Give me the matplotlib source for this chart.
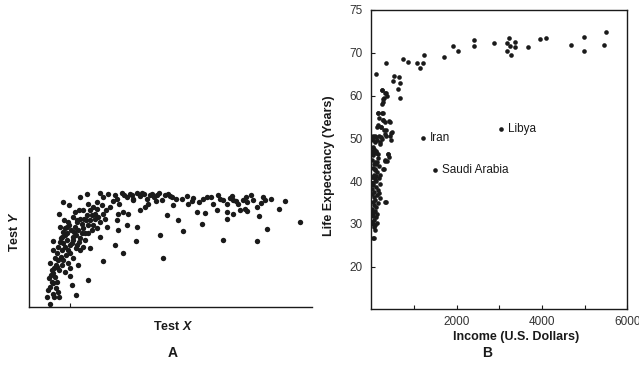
"""Two scatter panels: test scores (A) and life expectancy vs income (B)"""
import matplotlib
matplotlib.use("Agg")
from matplotlib import pyplot as plt

plt.rcParams["font.family"] = ["Liberation Sans", "DejaVu Sans"]
plt.rcParams["mathtext.fontset"] = "custom"
plt.rcParams["mathtext.it"] = "Liberation Sans:bold:italic"

# Panel A: scores on an arbitrary scale (no numeric axis in the original)
test_x = [190, 240, 262, 300, 310, 325, 345, 350, 365, 380, 390, 400, 410, 420,
          432, 440, 450, 462, 478, 485, 495, 505, 515, 520, 545, 565, 580, 597,
          620, 640, 655, 660, 680, 695, 700, 715, 738, 740, 760, 790, 795, 838,
          855, 900,
          305, 318, 330, 355, 370, 385, 420, 435, 500, 535, 590, 615, 650, 680,
          700, 720, 735, 740, 770, 778, 680, 605, 550, 800,
          350, 355, 380, 410, 408, 345, 368, 308, 300, 290, 480, 490, 670, 770,
          265, 235, 228, 150, 215, 210,
          150, 155, 160, 148, 165, 172, 158, 150, 168, 175, 160, 145, 170, 165, 155,
          180, 190, 185, 195, 200, 188, 195, 205, 185, 198, 190, 203, 210, 180,
          175, 200, 205, 193, 215, 210,
          220, 230, 225, 240, 245, 235, 250, 228, 240, 255, 220, 232, 248, 258,
          225, 238, 260, 245,
          265, 270, 280, 290, 275, 285, 295, 270, 300, 310, 290, 280, 265,
          160, 178, 208, 240, 270, 220,
          160, 170, 182, 195, 178, 185, 162, 175, 200, 212, 218, 228, 255, 265,
          275, 285, 250, 315, 320, 140, 163, 178,
          372, 395, 425, 455, 470, 510, 528, 560, 575, 610, 632, 670, 690, 708,
          728, 752, 782, 812, 338, 358, 398, 445, 468, 208, 222, 236, 252, 196,
          168, 152, 182, 210, 232]
test_y = [316, 331, 339, 343, 331, 341, 336, 326, 343, 331, 341, 323, 343, 333,
          341, 326, 336, 331, 343, 323, 336, 339, 331, 306, 326, 311, 329, 316,
          331, 311, 336, 326, 311, 333, 323, 309, 331, 316, 323, 331, 321, 296,
          319, 256,
          306, 291, 301, 281, 286, 279, 293, 301, 276, 261, 286, 283, 291, 286,
          281, 291, 296, 288, 301, 273, 266, 249, 229, 233,
          263, 231, 246, 241, 198, 186, 161, 139, 209, 236, 216, 146, 201, 199,
          81, 126, 35, 8, 66, 93,
          131, 111, 101, 86, 91, 76, 71, 61, 56, 46, 39, 51, 121, 146, 76,
          241, 226, 211, 216, 201, 191, 181, 171, 171, 156, 141, 131, 116, 196,
          181, 241, 256, 261, 191, 161,
          271, 256, 241, 266, 251, 231, 236, 216, 206, 221, 201, 186, 181, 261,
          286, 293, 276, 221,
          311, 291, 301, 296, 276, 281, 271, 261, 256, 281, 316, 246, 246,
          199, 281, 306, 171, 176, 146,
          171, 161, 151, 106, 111, 126, 116, 141, 221, 231, 211, 176, 201, 221,
          231, 266, 291, 266, 241, 31, 31, 31,
          336, 338, 344, 340, 336, 334, 326, 333, 318, 324, 330, 321, 329, 318,
          322, 336, 312, 325, 318, 309, 326, 311, 318, 246, 226, 196, 266, 236,
          126, 96, 206, 186, 261]

# Panel B: income (U.S. dollars) and life expectancy (years)
income = [100, 336, 734, 867, 1062, 1140, 1203, 1234, 1711, 1922, 2023, 2414,
          2414, 2875, 3172, 3219, 3188, 3266, 3367, 3367, 3250, 3664, 3953, 4094,
          4672, 4992, 4992, 5453, 5500,
          500, 531, 656, 672, 617, 672, 242, 320, 359, 281, 266, 164, 281, 188,
          266, 422, 141, 227, 344, 477, 438, 320, 188, 86, 47, 141, 242, 453,
          203, 398, 414, 320, 375, 109, 47, 164, 281, 336, 86, 47,
          250, 351, 297, 250, 157, 250, 274, 313, 430, 157, 234, 297, 468, 40,
          117, 220, 351, 80, 196, 40, 117, 390, 313, 133, 297, 80, 196, 40, 313, 63,
          30, 60, 90, 120, 45, 150, 20, 75, 110, 180, 40, 95, 140, 60, 25, 170,
          85, 120, 50, 200, 30, 100, 150, 70, 20, 130, 55, 210, 90, 35, 160, 70,
          120, 25, 80, 50, 140, 30, 100, 60, 20, 130, 45, 90, 70, 35, 180, 110,
          15, 65]
life = [65.0, 67.6, 68.6, 67.9, 67.5, 66.5, 67.5, 69.5, 69.1, 71.6, 70.4, 72.9,
        71.6, 72.3, 72.3, 73.5, 70.5, 69.5, 72.6, 71.3, 71.6, 71.4, 73.1, 73.5,
        71.9, 73.7, 70.4, 71.7, 74.8,
        63.3, 64.6, 64.3, 63.0, 61.6, 59.4, 61.2, 60.7, 59.9, 59.1, 58.4, 56.0,
        56.0, 54.7, 54.3, 54.0, 52.7, 52.6, 51.9, 51.4, 50.6, 50.9, 50.6, 50.6,
        49.6, 49.5, 49.8, 49.5, 48.7, 46.4, 45.6, 45.0, 44.8, 47.1, 46.7, 46.4,
        42.9, 35.0, 28.5, 26.6,
        61.3, 60.7, 59.5, 58.1, 55.9, 55.9, 54.3, 53.7, 53.9, 53.1, 52.6, 52.0,
        51.3, 50.6, 50.2, 50.4, 50.6, 49.1, 49.1, 47.1, 46.7, 46.4, 44.8, 44.4,
        42.9, 42.5, 41.3, 40.9, 35.0, 26.6,
        48.0, 47.5, 47.0, 46.5, 46.0, 45.5, 45.0, 44.5, 44.0, 43.5, 43.0, 42.8,
        42.0, 41.5, 41.0, 40.8, 40.5, 40.0, 39.5, 39.3, 39.0, 38.5, 38.0, 37.5,
        37.0, 36.8, 36.3, 36.0, 35.5, 35.0, 34.8, 34.3, 34.0, 33.5, 33.0, 32.5,
        32.2, 31.8, 31.5, 31.0, 30.5, 30.3, 30.0, 29.7, 29.3, 32.8, 37.2, 41.2,
        38.2, 44.0]

labelled = ["Iran", "Libya", "Saudi Arabia"]
labelled_income = [1203, 3039, 1492]
labelled_life = [50.1, 52.2, 42.6]

ink = "#1a1a1a"
fig = plt.figure(figsize=(6.39, 3.70), dpi=100)

# ---- panel A
axa = fig.add_axes([0.0454, 0.1703, 0.4429, 0.4054])
axa.scatter(test_x, test_y, s=15, color=ink, linewidths=0)
axa.set_xlim(87, 936)
axa.set_ylim(0, 451)
axa.spines["top"].set_visible(False)
axa.spines["right"].set_visible(False)
for sp in axa.spines.values():
    sp.set_color(ink)
    sp.set_linewidth(1.0)
axa.set_xticks([210])
axa.set_xticklabels([""])
axa.set_yticks([])
axa.tick_params(axis="x", direction="in", length=3, color=ink)
axa.set_xlabel("Test $\\mathit{X}$", fontsize=9, fontweight="bold", color=ink)
axa.set_ylabel("Test $\\mathit{Y}$", fontsize=9, fontweight="bold", color=ink)
axa.xaxis.set_label_coords(0.51, -0.085)
axa.yaxis.set_label_coords(-0.028, 0.5)

# ---- panel B
axb = fig.add_axes([0.5811, 0.164, 0.4006, 0.809])
axb.scatter(income, life, s=11, color=ink, linewidths=0)
axb.scatter(labelled_income, labelled_life, s=11, color=ink, linewidths=0)
for name, xv, yv in zip(labelled, labelled_income, labelled_life):
    axb.annotate(name, (xv, yv), xytext=(5, 0), textcoords="offset points",
                 va="center", ha="left", fontsize=8.5, color=ink)
axb.set_xlim(0, 6000)
axb.set_ylim(10, 80)
axb.set_xticks([1000, 2000, 3000, 4000, 5000, 6000])
axb.set_xticklabels(["", "2000", "", "4000", "", "6000"])
axb.set_yticks([20, 30, 40, 50, 60, 70, 80])
axb.set_yticklabels(["20", "30", "40", "50", "60", "70", "75"])
axb.tick_params(direction="in", length=3, labelsize=8.5, color=ink,
                labelcolor="#333333")
axb.tick_params(axis="x", pad=5)
axb.tick_params(axis="y", pad=6)
for sp in axb.spines.values():
    sp.set_color(ink)
    sp.set_linewidth(1.0)
axb.set_xlabel("Income (U.S. Dollars)", fontsize=9, fontweight="bold", color=ink)
axb.set_ylabel("Life Expectancy (Years)", fontsize=9, fontweight="bold", color=ink)
axb.xaxis.set_label_coords(0.565, -0.072)
axb.yaxis.set_label_coords(-0.142, 0.479)

fig.text(173 / 639, 1 - 353 / 370, "A", ha="center", va="center",
         fontsize=10, fontweight="bold", color=ink)
fig.text(487 / 639, 1 - 353 / 370, "B", ha="center", va="center",
         fontsize=10, fontweight="bold", color=ink)

fig.savefig("out.png", dpi=100)
